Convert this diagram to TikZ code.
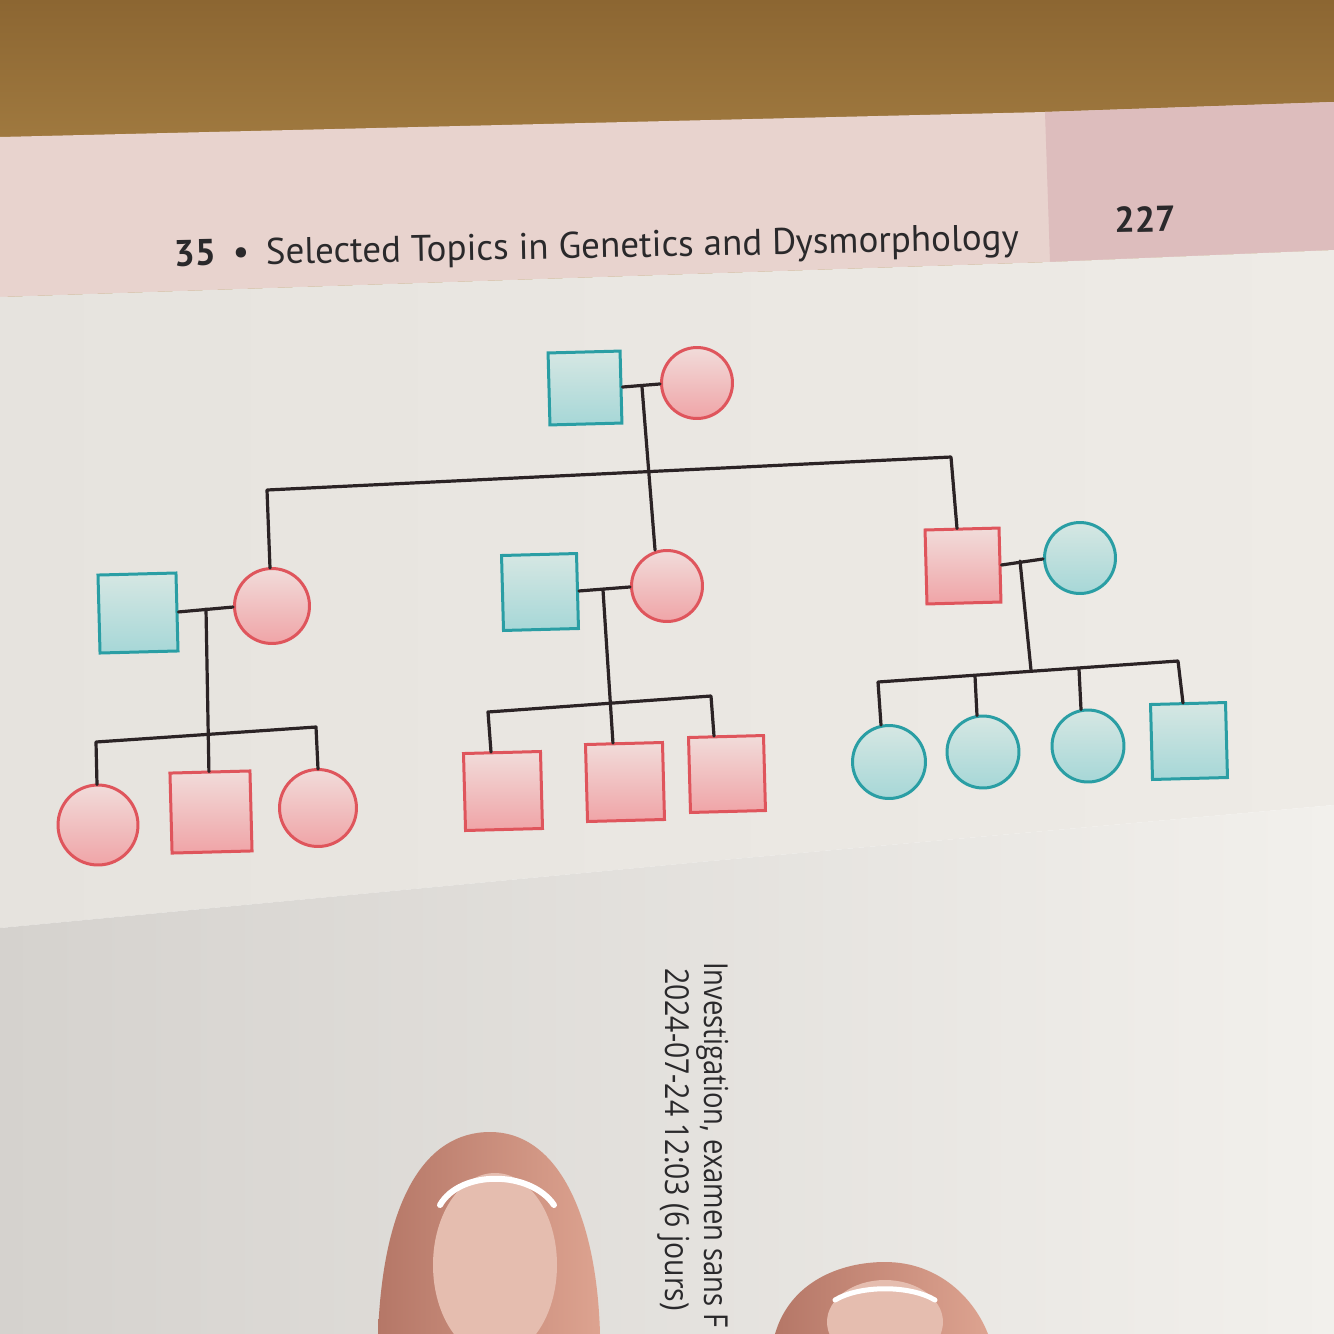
\documentclass[tikz,border=0pt]{standalone}
\usepackage{fontspec}
\usetikzlibrary{calc}
\setmainfont{PT Sans}
\newfontfamily\stampfont{Open Sans}
\definecolor{wooda}{HTML}{8C6632}
\definecolor{woodb}{HTML}{B68F4E}
\definecolor{band}{HTML}{E8D3CE}
\definecolor{bandr}{HTML}{DDBDBD}
\definecolor{pagea}{HTML}{E6E3DE}
\definecolor{pageb}{HTML}{EEEBE6}
\definecolor{lowa}{HTML}{D5D2CE}
\definecolor{lowb}{HTML}{F2F0EC}
\definecolor{headc}{HTML}{2A292B}
\definecolor{linkc}{HTML}{2B2325}
\definecolor{redline}{HTML}{DF555C}
\definecolor{redtop}{HTML}{F1DCDA}
\definecolor{redbot}{HTML}{F0A4A7}
\definecolor{cyanline}{HTML}{2A9EA4}
\definecolor{cyantop}{HTML}{D6E7E3}
\definecolor{cyanbot}{HTML}{A6D7D7}
\definecolor{skina}{HTML}{B57767}
\definecolor{skinb}{HTML}{DDA390}
\definecolor{nail}{HTML}{E5BDAF}
\begin{document}
\begin{tikzpicture}[x=1pt,y=-1pt,
  link/.style={draw=linkc, line width=3.2pt, line cap=round, line join=round},
  person/.style={inner sep=0pt, line width=3pt, rotate=1.5},
  aff/.style={person, draw=redline, top color=redtop, bottom color=redbot},
  unaff/.style={person, draw=cyanline, top color=cyantop, bottom color=cyanbot},
  male/.style={rectangle, minimum size=#1},
  female/.style={circle, minimum size=#1},
  stamp/.style={anchor=base west, rotate=-90, text=headc, inner sep=0pt, font=\stampfont\fontsize{33}{36}\selectfont}
]
% background and paper
\useasboundingbox (0,0) rectangle (1334,1334);
\shade[top color=wooda, bottom color=woodb] (0,0) rectangle (1334,300);
\fill[band] (0,137) -- (1045,112) -- (1334,102) -- (1334,250) -- (1050,262) -- (0,297) -- cycle;
\fill[bandr] (1045,112) -- (1334,102) -- (1334,250) -- (1050,262) -- cycle;
\shade[left color=pagea, right color=pageb] (0,297) -- (1050,262) -- (1334,250) -- (1334,805) -- (700,862) -- (0,928) -- cycle;
\shade[left color=lowa, right color=lowb] (0,928) -- (700,862) -- (1334,805) -- (1334,1334) -- (0,1334) -- cycle;

% header
\node[anchor=base west, rotate=1.1, text=headc, inner sep=0pt, font=\fontsize{37}{40}\selectfont] (hdr) at (174,266)
  {\textbf{35}\hspace{0.45em}\textbullet\hspace{0.45em}Selected Topics in Genetics and Dysmorphology};
\node[anchor=center, rotate=1.1, text=headc, inner sep=0pt, font=\bfseries\fontsize{36}{40}\selectfont] (pg) at (1145,219) {227};

% generation I
\node[unaff, male=72pt] (I1) at (585,388) {};
\node[aff, female=71pt] (I2) at (697,383) {};
% generation II
\node[unaff, male=78pt] (II1) at (138,613) {};
\node[aff, female=75pt] (II2) at (272,606) {};
\node[unaff, male=75pt] (II3) at (540,592) {};
\node[aff, female=71pt] (II4) at (667,586) {};
\node[aff, male=74pt] (II5) at (963,566) {};
\node[unaff, female=71pt] (II6) at (1080,558) {};
% generation III
\node[aff, female=80pt] (III1) at (98,825) {};
\node[aff, male=80pt] (III2) at (211,812) {};
\node[aff, female=77pt] (III3) at (318,808) {};
\node[aff, male=77pt] (III4) at (503,791) {};
\node[aff, male=77pt] (III5) at (625,782) {};
\node[aff, male=75pt] (III6) at (727,774) {};
\node[unaff, female=73pt] (III7) at (889,762) {};
\node[unaff, female=72pt] (III8) at (983,752) {};
\node[unaff, female=72pt] (III9) at (1088,746) {};
\node[unaff, male=75pt] (III10) at (1189,741) {};

% junction points
\coordinate (d1) at (642,387);
\coordinate (s1l) at (267,490);
\coordinate (s1r) at (951,457);
\coordinate (d2) at (206,609);
\coordinate (s2l) at (96,742);
\coordinate (s2r) at (316,727);
\coordinate (d3) at (603,590);
\coordinate (s3l) at (488,712);
\coordinate (s3r) at (711,696);
\coordinate (d4) at (1020,561);
\coordinate (v4) at (1031,670);
\coordinate (s4l) at (878,682);
\coordinate (s4r) at (1178,661);
\coordinate (s4a) at (975,676);
\coordinate (s4b) at (1079,669);

% connectors, generation I
\draw[link] (I1.east) -- (I2.west);
\draw[link] (d1) -- ($(II4.north)+(-11,1)$);
\draw[link] ($(s1l |- II2.north)+(3,1)$) -- (s1l) -- (s1r) -- ($(s1r |- II5.north)+(6,1)$);
% family II1 x II2
\draw[link] (II1.east) -- (II2.west);
\draw[link] (d2) -- ($(III2.north)+(-1,1)$);
\draw[link] ($(s2l |- III1.north)+(1,1)$) -- (s2l) -- (s2r) -- ($(s2r |- III3.north)+(2,1)$);
% family II3 x II4
\draw[link] (II3.east) -- (II4.west);
\draw[link] (d3) -- ($(III5.north)+(-11,1)$);
\draw[link] ($(s3l |- III4.north)+(3,1)$) -- (s3l) -- (s3r) -- ($(s3r |- III6.north)+(3,1)$);
% family II5 x II6
\draw[link] (II5.east) -- (II6.west);
\draw[link] (d4) -- (v4);
\draw[link] ($(s4l |- III7.north)+(3,1)$) -- (s4l) -- (s4r) -- ($(s4r |- III10.north)+(5,1)$);
\draw[link] ($(s4a |- III8.north)+(2,1)$) -- (s4a);
\draw[link] ($(s4b |- III9.north)+(2,1)$) -- (s4b);

% stamped text on the lower sheet
\node[stamp] (st1) at (704,962) {\scalebox{0.83}[1]{Investigation, examen sans F}};
\node[stamp] (st2) at (665,968) {\scalebox{0.86}[1]{2024-07-24 12:03 (6 jours)}};

% fingers
\shade[left color=skina, right color=skinb] (378,1334) .. controls (383,1200) and (425,1132) .. (490,1132) .. controls (560,1132) and (597,1220) .. (600,1334) -- cycle;
\fill[nail] (495,1265) ellipse [x radius=62, y radius=92];
\draw[white, line width=6pt, line cap=round] (440,1205) .. controls (460,1170) and (530,1170) .. (554,1205);
\shade[left color=skina, right color=skinb] (775,1334) .. controls (790,1282) and (840,1262) .. (885,1262) .. controls (940,1262) and (975,1300) .. (988,1334) -- cycle;
\fill[nail] (885,1322) ellipse [x radius=58, y radius=42];
\draw[white, line width=5pt, line cap=round] (835,1300) .. controls (860,1285) and (910,1285) .. (935,1300);
\end{tikzpicture}
\end{document}
